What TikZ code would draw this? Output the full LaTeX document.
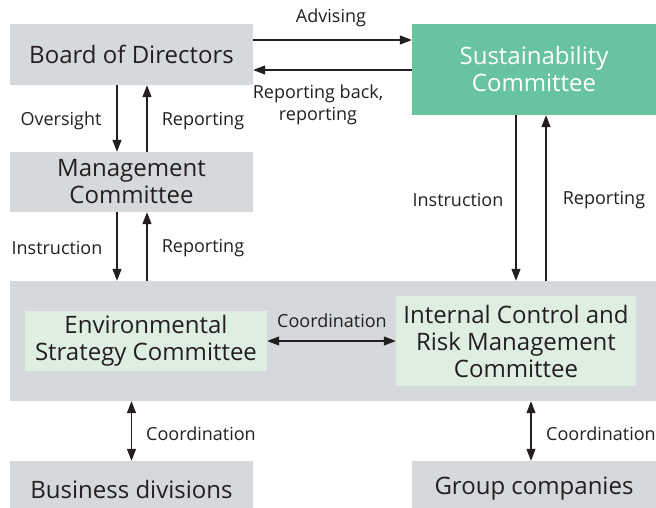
\documentclass[tikz,border=0pt]{standalone}
\usepackage{fontspec}
\setmainfont{Open Sans}
\usetikzlibrary{arrows.meta}
\definecolor{boxGray}{RGB}{214,217,219}
\definecolor{boxGreen}{RGB}{104,196,158}
\definecolor{paleGreen}{RGB}{222,238,225}
\definecolor{inkDark}{RGB}{35,31,32}

\begin{document}
\begin{tikzpicture}[x=1pt, y=-1pt,
    box/.style={fill=boxGray, text=inkDark, inner sep=0pt, align=center,
      font=\fontsize{24}{27}\selectfont},
    arr/.style={-{Triangle[length=12pt,width=9pt]}, line width=1.2pt, draw=inkDark},
    twoway/.style={{Triangle[length=12pt,width=9pt]}-{Triangle[length=12pt,width=9pt]},
      line width=1.2pt, draw=inkDark},
    lbl/.style={text=inkDark, align=center, font=\fontsize{18}{22}\selectfont}]
  \useasboundingbox (0,0) rectangle (656,508);
  \clip (0,0) rectangle (656,508);

  % Boxes
  \node[box, minimum width=243pt, minimum height=61pt] (board) at (131.5,54.5) {Board of Directors};
  \node[box, fill=boxGreen, text=white, minimum width=244pt, minimum height=91pt] (sust) at (534,69.5)
    {Sustainability\\Committee};
  \node[box, minimum width=243pt, minimum height=60pt] (mgmt) at (131.5,182) {Management\\Committee};
  \node[box, minimum width=646pt, minimum height=120pt] (group) at (333,341) {};
  \node[box, fill=paleGreen, minimum width=242pt, minimum height=60pt] (env) at (146,341)
    {Environmental\\Strategy Committee};
  \node[box, fill=paleGreen, minimum width=240pt, minimum height=90pt] (icr) at (516,341)
    {Internal Control and\\Risk Management\\Committee};
  \node[box, minimum width=243pt, minimum height=56pt] (biz) at (131.5,489) {Business divisions};
  \node[box, minimum width=244pt, minimum height=56pt] (grp) at (534,489) {Group companies};

  % Board <-> Sustainability Committee
  \draw[arr] ([yshift=14.5pt]board.east) -- ([yshift=29.5pt]sust.west);
  \draw[arr] ([yshift=-0.5pt]sust.west) -- ([yshift=-15.5pt]board.east);
  \node[lbl] (advise) at (331,18) {Advising};
  \node[lbl] (repback) at (318,105) {Reporting back,\\reporting};

  % Board <-> Management Committee
  \draw[arr] ([xshift=-14.5pt]board.south) -- ([xshift=-14.5pt]mgmt.north);
  \draw[arr] ([xshift=15.5pt]mgmt.north) -- ([xshift=15.5pt]board.south);
  \node[lbl] (over) at (61,121) {Oversight};
  \node[lbl] (rep1) at (203,121) {Reporting};

  % Management Committee <-> committees
  \draw[arr] ([xshift=-14.5pt]mgmt.south) -- ([xshift=-14.5pt]mgmt.south |- group.north);
  \draw[arr] ([xshift=15.5pt]mgmt.south |- group.north) -- ([xshift=15.5pt]mgmt.south);
  \node[lbl] (instr1) at (57,248) {Instruction};
  \node[lbl] (rep2) at (203,248) {Reporting};

  % Sustainability Committee <-> committees
  \draw[arr] ([xshift=-18pt]sust.south) -- ([xshift=-18pt]sust.south |- group.north);
  \draw[arr] ([xshift=12pt]sust.south |- group.north) -- ([xshift=12pt]sust.south);
  \node[lbl] (instr2) at (458,200) {Instruction};
  \node[lbl] (rep3) at (604,200) {Reporting};

  % Coordination
  \draw[twoway] (env.east) -- (icr.west);
  \node[lbl] (coord1) at (332,321) {Coordination};
  \draw[twoway] (group.south -| biz.north) -- (biz.north);
  \node[lbl] (coord2) at (201,434) {Coordination};
  \draw[twoway] ([xshift=-3pt]group.south -| grp.north) -- ([xshift=-3pt]grp.north);
  \node[lbl] (coord3) at (601,434) {Coordination};
\end{tikzpicture}
\end{document}
